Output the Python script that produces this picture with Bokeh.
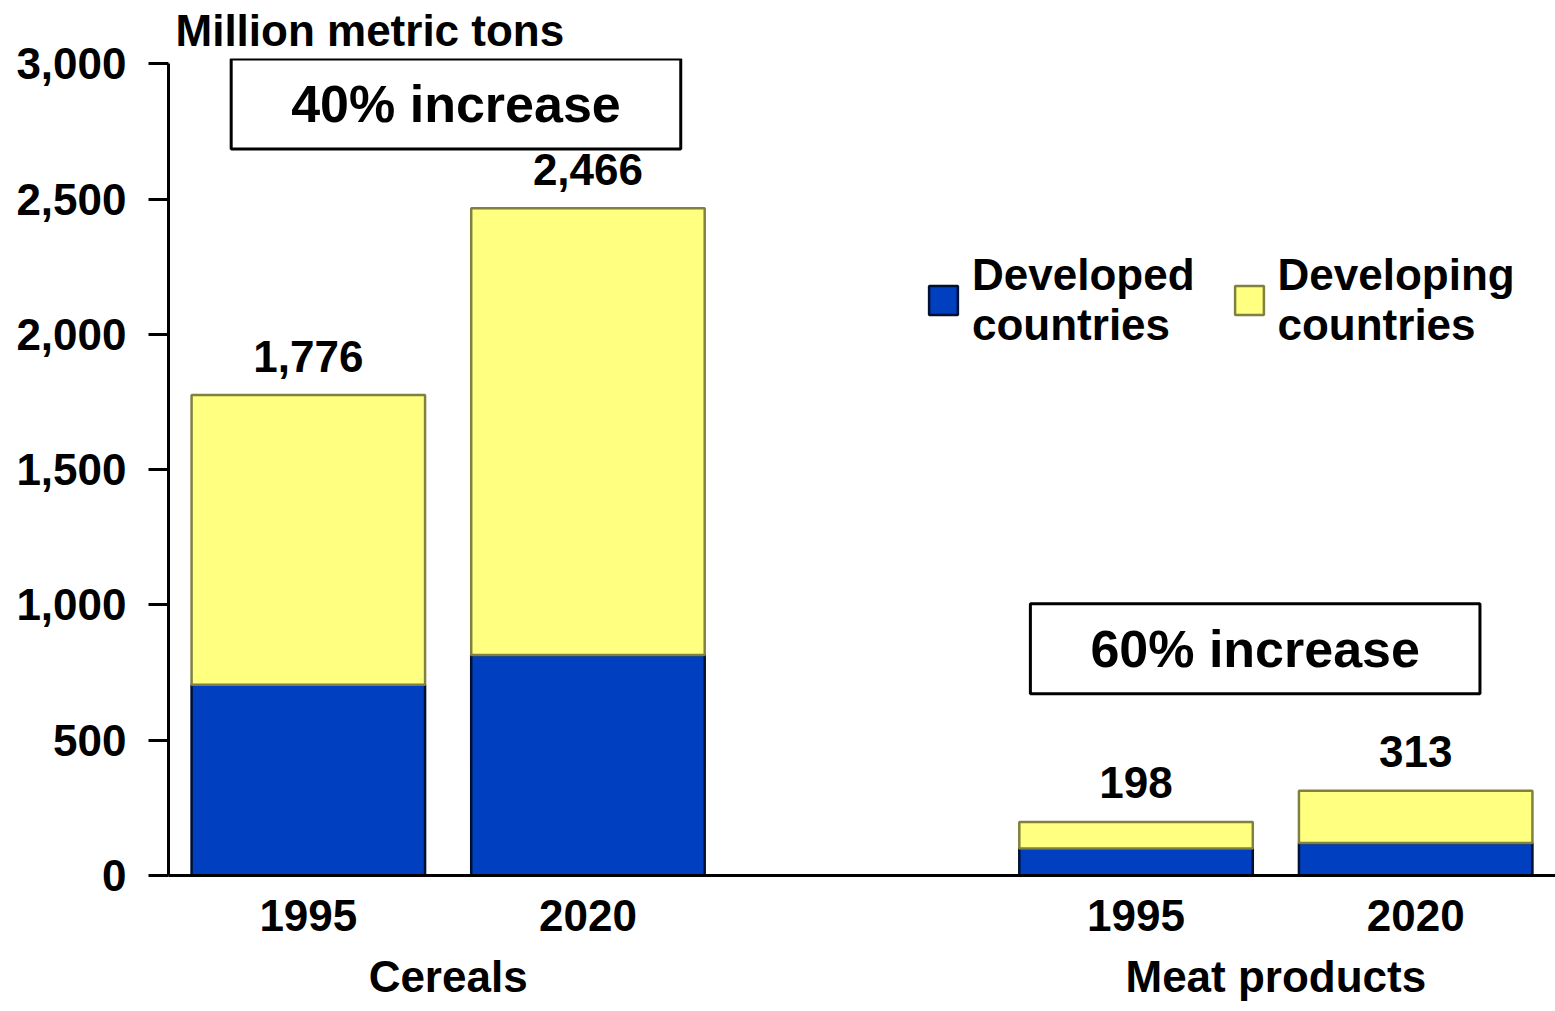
from bokeh.plotting import figure
from bokeh.models import (FactorRange, Range1d, NumeralTickFormatter, Label, Legend,
                          LegendItem, FixedTicker, ColumnDataSource)
from bokeh.embed import file_html
from bokeh.resources import INLINE

groups = ["Cereals", "Meat products"]
years = ["1995", "2020"]
developed = [705, 815, 100, 120]
developing = [1071, 1651, 98, 193]
totals = [1776, 2466, 198, 313]
y_ticks = [0, 500, 1000, 1500, 2000, 2500, 3000]
increase_labels = ["40% increase", "60% increase"]
series_names = ["Developed\ncountries", "Developing\ncountries"]

BLUE = "#0040C0"
YELLOW = "#FFFF80"
FONT = "Liberation Sans"
FS = "44px"

factors = [(g, y) for g in groups for y in years]
src = ColumnDataSource(dict(
    x=factors, developed=developed, developing=developing, total=totals,
    total_label=[f"{t:,}" for t in totals],
))

p = figure(
    x_range=FactorRange(*factors, range_padding=0, group_padding=0.96),
    y_range=Range1d(0, 3020),
    width=1555, height=1011,
    output_backend="svg", toolbar_location=None,
    min_border_left=168, min_border_right=0, min_border_top=0, min_border_bottom=136,
)
p.outline_line_color = None
p.xgrid.grid_line_color = None
p.ygrid.grid_line_color = None
p.background_fill_color = "white"

# unit label
p.title.text = "Million metric tons"
p.title.text_font = FONT
p.title.text_font_size = FS
p.title.text_font_style = "bold"
p.title.text_color = "black"
p.title.align = "left"
p.title.offset = 7
p.title.standoff = 7

rs = p.vbar_stack(["developed", "developing"], x="x", width=0.835, source=src,
                  fill_color=[BLUE, YELLOW], line_color=["#001030", "#808040"],
                  line_width=2.5)

p.text(x="x", y="total", text="total_label", source=src, text_align="center",
       text_baseline="alphabetic", y_offset=-39, text_font_size=FS,
       text_font={"value": FONT}, text_font_style="bold", text_color="black")

# axes
ya = p.yaxis[0]
ya.ticker = FixedTicker(ticks=y_ticks)
ya.formatter = NumeralTickFormatter(format="0,0")
ya.bounds = (0, 3000)
ya.axis_line_width = 3
ya.axis_line_color = "black"
ya.major_tick_out = 20
ya.major_tick_in = 0
ya.major_tick_line_width = 3
ya.minor_tick_line_color = None
ya.major_label_standoff = 22
ya.major_label_text_font = FONT
ya.major_label_text_font_size = FS
ya.major_label_text_font_style = "bold"
ya.major_label_text_color = "black"

xa = p.xaxis[0]
xa.axis_line_width = 3
xa.axis_line_color = "black"
xa.major_tick_line_color = None
xa.minor_tick_line_color = None
xa.major_label_standoff = 18
xa.major_label_text_font = FONT
xa.major_label_text_font_size = FS
xa.major_label_text_font_style = "bold"
xa.major_label_text_color = "black"
xa.group_text_font = FONT
xa.group_text_font_size = FS
xa.group_text_font_style = "bold"
xa.group_text_color = "black"
xa.separator_line_alpha = 0

# increase boxes
for txt, xx, yy in zip(increase_labels, [1.028, 3.886], [2852, 838]):
    p.add_layout(Label(x=xx, y=yy, text=txt, text_align="center", text_baseline="middle",
                       text_font=FONT, text_font_size="52px", text_font_style="bold",
                       text_color="black",
                       border_line_color="black", border_line_width=3,
                       background_fill_color="white",
                       padding=dict(left=60, right=60, top=16, bottom=16)))

legend = Legend(
    items=[LegendItem(label=series_names[i], renderers=[rs[i]]) for i in range(2)],
    orientation="horizontal", location=(757, 525),
    glyph_width=36, glyph_height=36, label_standoff=11, spacing=36,
    label_text_font=FONT, label_text_font_size=FS, label_text_font_style="bold",
    label_text_color="black",
    border_line_color=None, background_fill_alpha=0, padding=0, margin=0,
)
p.add_layout(legend)

open("out.html", "w").write(file_html(p, INLINE))
